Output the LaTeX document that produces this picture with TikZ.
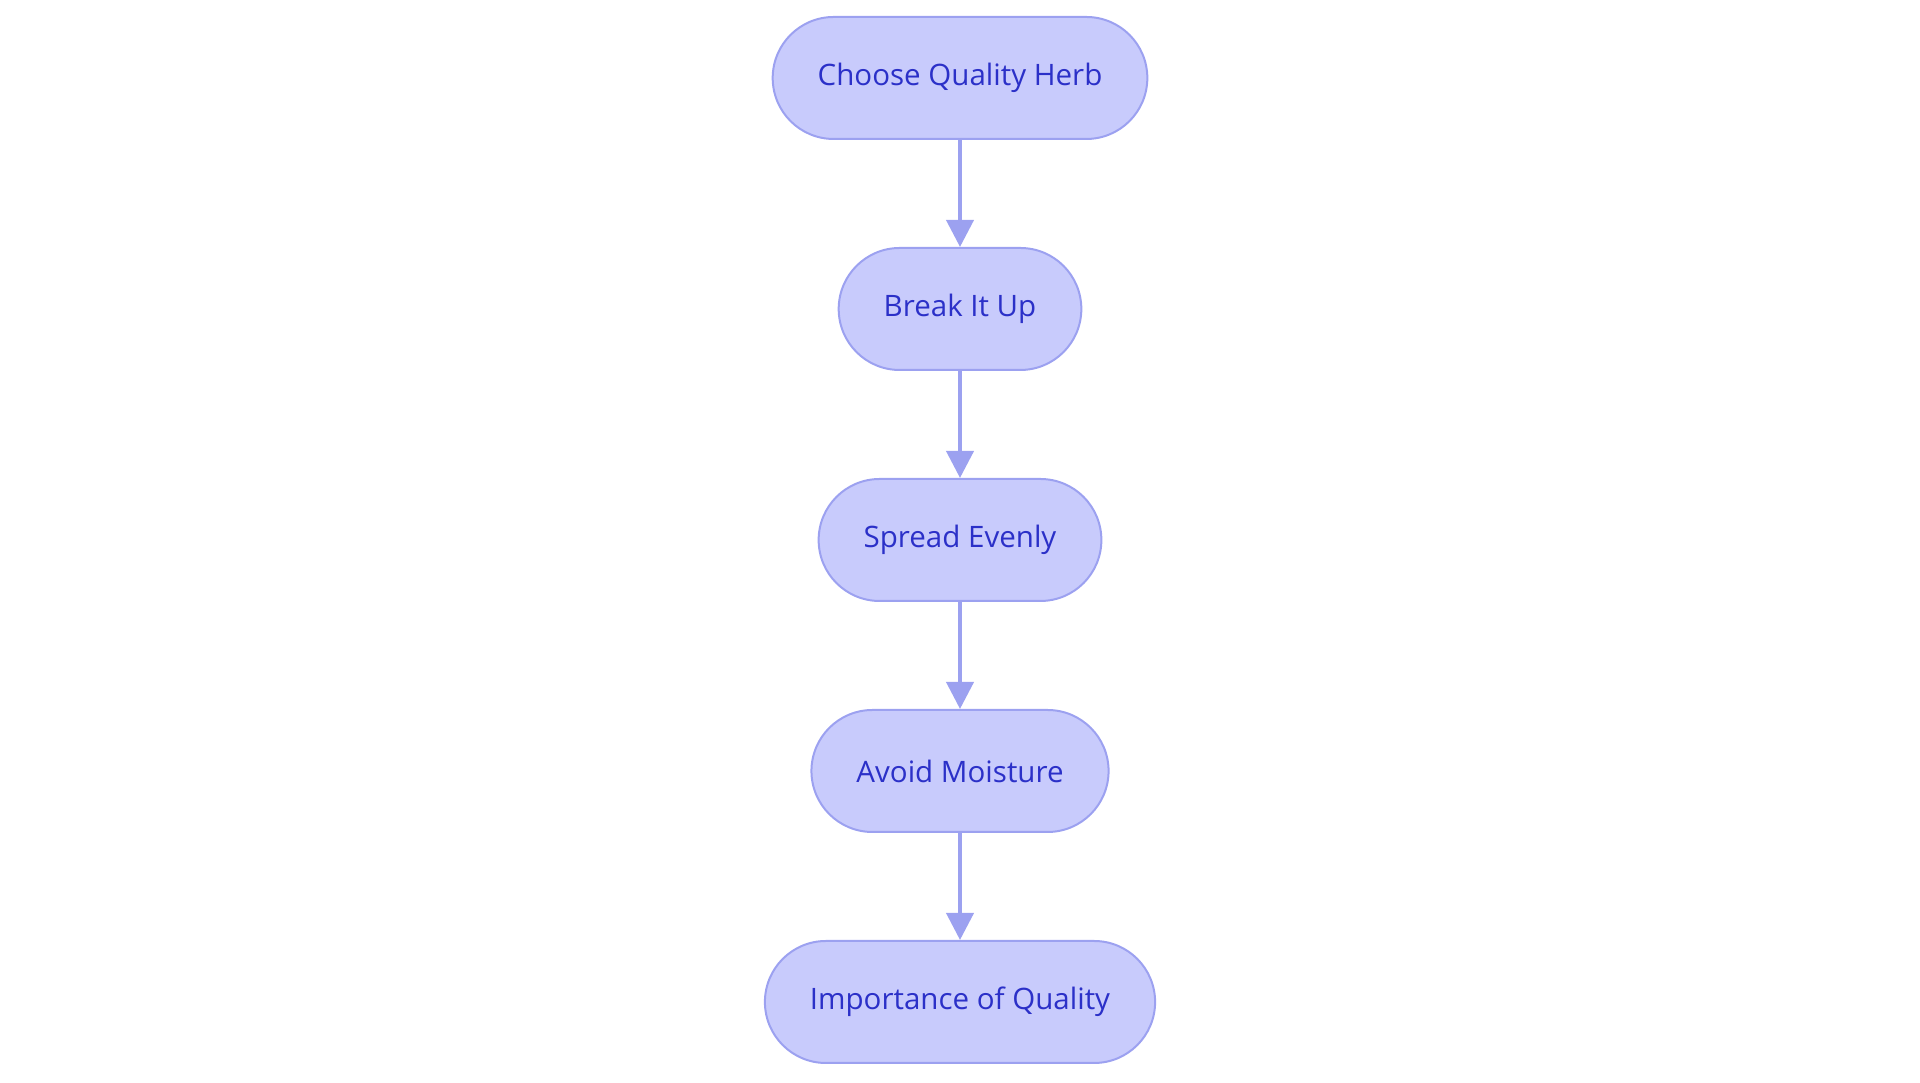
\documentclass[tikz,border=0pt]{standalone}
\usepackage{fontspec}
\setmainfont{Open Sans}
\usepackage{tikz}
\usetikzlibrary{arrows.meta}
\definecolor{pillfill}{HTML}{C8CBFC}
\definecolor{pilledge}{HTML}{9CA1F0}
\definecolor{pilltext}{HTML}{2B30C8}
\tikzset{
Etape/.style={
 draw=pilledge,
 fill=pillfill,
 text=pilltext,
 line width=0.02cm,
 rounded corners=0.61cm,
 minimum height=1.22cm,
 inner xsep=0.45cm,
 font=\fontsize{8.4pt}{10pt}\selectfont
 },
Lien/.style={
 draw=pilledge,
 line width=0.04cm,
 -{Triangle[length=0.27cm,width=0.27cm]}
 }
}
\begin{document}
\begin{tikzpicture}
\useasboundingbox (0,0) rectangle (19.20,10.83);
\node[Etape] (choose) at (9.6,10.05) {Choose Quality Herb};
\node[Etape] (breakup) at (9.6,7.74) {Break It Up};
\node[Etape] (spread) at (9.6,5.43) {Spread Evenly};
\node[Etape] (moisture) at (9.6,3.12) {Avoid Moisture};
\node[Etape] (importance) at (9.6,0.81) {Importance of Quality};
\draw[Lien] (choose) -- (breakup);
\draw[Lien] (breakup) -- (spread);
\draw[Lien] (spread) -- (moisture);
\draw[Lien] (moisture) -- (importance);
\end{tikzpicture}
\end{document}
